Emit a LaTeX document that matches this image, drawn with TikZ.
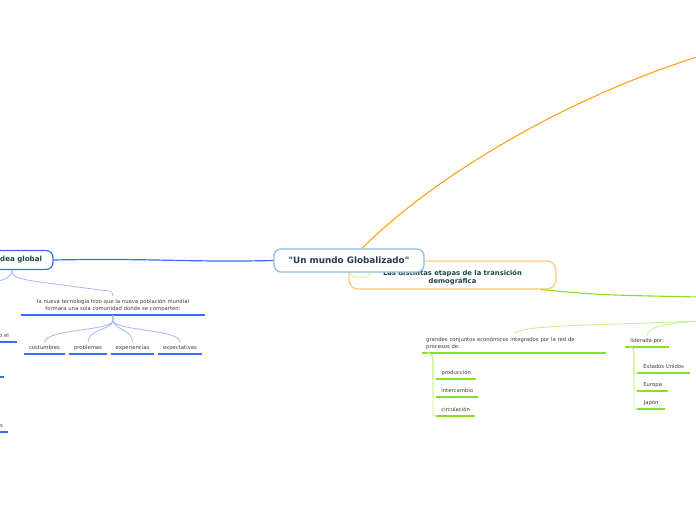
\documentclass[tikz,border=0pt]{standalone}
\usepackage{fontspec}
\setmainfont{DejaVu Sans}
\usetikzlibrary{calc}
\definecolor{cblue}{HTML}{8CBDE6}
\definecolor{ctext}{HTML}{233A58}
\definecolor{oline}{HTML}{FFC878}
\definecolor{oconn}{HTML}{FFA41C}
\definecolor{ttext}{HTML}{1E4646}
\definecolor{gbright}{HTML}{88E024}
\definecolor{glight}{HTML}{C8F28E}
\definecolor{gyel}{HTML}{E6F5A0}
\definecolor{bstrong}{HTML}{3A6CF4}
\definecolor{blight}{HTML}{A2B9F6}
\definecolor{gtxt}{HTML}{3A3A3A}
\begin{document}
\begin{tikzpicture}[x=1pt,y=-1pt,
  central/.style={draw=cblue, line width=1.3pt, fill=white, rounded corners=7pt, minimum width=150pt, minimum height=23pt, inner sep=0pt, font=\fontsize{8.8}{10}\selectfont\bfseries, text=ctext},
  topic/.style={draw=oline, line width=1.2pt, fill=white, rounded corners=9pt, minimum width=207pt, minimum height=28pt, inner sep=0pt, align=center, font=\fontsize{6.8}{8}\selectfont\bfseries, text=ttext},
  mainb/.style={draw=bstrong, line width=1.2pt, fill=white, rounded corners=7pt, minimum height=19pt, inner ysep=0pt, font=\fontsize{7.1}{8}\selectfont\bfseries, text=ttext},
  leaf/.style={inner xsep=0pt, inner ysep=3pt, text height=4pt, text depth=1.2pt, font=\fontsize{5.3}{6.5}\selectfont, text=gtxt},
  para/.style={inner xsep=4pt, inner ysep=3pt, font=\fontsize{5.3}{7.3}\selectfont, text=gtxt},
  ulb/.style={draw=bstrong, line width=1.6pt},
  ulg/.style={draw=gbright, line width=1.4pt},
  lkb/.style={draw=blight, line width=0.8pt},
  lkg/.style={draw=glight, line width=0.9pt},
]
\useasboundingbox (0,0) rectangle (696,520);
\clip (0,0) rectangle (696,520);

% free ends
\coordinate (oe) at (700,56);
\coordinate (ge) at (700,297);
\coordinate (gp) at (700,321);
\coordinate (igs) at (12,270);
\coordinate (igl) at (-5,282);

% orange topic (behind central)
\node[topic] (o) at (452.5,275) {\rule{0pt}{9.5pt}Las distintas etapas de la transición\\demográfica};
\draw[gyel, line width=1.2pt] (350,266) .. controls (350.5,276) .. (356,277) -- (365,277) .. controls (370,276.5) .. (370,266);
\draw[gbright, line width=1.1pt] ($(o.south east)+(-16,0)$) .. controls (600,295) .. (ge);

% central
\node[central] (c) at (349,260.5) {\textquotedbl Un mundo Globalizado\textquotedbl};
\draw[oconn, line width=1.1pt] ($(c.north)+(13,0)$) .. controls (430,180) and (560,100) .. (oe);

% left main topic
\node[mainb, minimum width=93pt, text width=71pt, align=right, inner xsep=11pt] (ig) at (6.5,260) {idea global};
\draw[bstrong, line width=1.2pt] (ig.east) .. controls (150,258) and (190,262.5) .. (c.west);

% left subtree
\node[para, text width=176pt, align=center, anchor=south] (n) at (113,315) {la nueva tecnología hizo que la nueva población mundial\\formara una sola comunidad donde se comparten:};
\draw[ulb] (n.south west) -- (n.south east);
\draw[lkb] (igs) .. controls (12,278) and (20,279) .. (40,282) -- (100,290) .. controls (112,291) .. (n.north);
\draw[lkb] (igs) .. controls (12,277) and (6,279) .. (igl);

\node[leaf, anchor=south, minimum width=41pt] (k1) at (44.5,354) {costumbres};
\node[leaf, anchor=south, minimum width=38pt] (k2) at (88,354) {problemas};
\node[leaf, anchor=south, minimum width=43pt] (k3) at (132.5,354) {experiencias};
\node[leaf, anchor=south, minimum width=44pt] (k4) at (180,354) {expectativas};
\foreach \k in {k1,k2,k3,k4} {\draw[ulb] (\k.south west) -- (\k.south east);}
\draw[lkb] (n.south) -- (113,321) .. controls (110,331) and (45,329) .. (k1.north);
\draw[lkb] (n.south) -- (113,321) .. controls (111,330) and (88,329) .. (k2.north);
\draw[lkb] (n.south) -- (113,321) .. controls (115,330) and (132,329) .. (k3.north);
\draw[lkb] (n.south) -- (113,321) .. controls (116,331) and (180,329) .. (k4.north);

% cut-off items at the left edge
\node[leaf, anchor=south east, text width=22pt, align=right, inner xsep=8pt] (q1) at (17,342) {o el};
\draw[ulb] (q1.south west) -- (q1.south east);
\node[leaf, anchor=south east, minimum width=30pt] (q2) at (4,377) {};
\draw[ulb] (q2.south west) -- (q2.south east);
\node[leaf, anchor=south east, text width=20pt, align=right, inner xsep=5pt] (q3) at (8,432) {s};
\draw[ulb] (q3.south west) -- (q3.south east);

% right subtree
\node[para, text width=176pt, align=left, anchor=south west] (g) at (422,353) {grandes conjuntos económicos integrados por la red de\\procesos de:};
\draw[ulg] (g.south west) -- (g.south east);
\node[leaf, anchor=south west, minimum width=44pt] (l) at (625,347) {liderada por:};
\draw[ulg] (l.south west) -- (l.south east);
\draw[lkg] (gp) .. controls (580,326) and (520,325) .. (g.north);
\draw[lkg] (gp) .. controls (670,323) and (648,326) .. (l.north);

\node[leaf, anchor=south west, minimum width=40pt] (p1) at (436,379) {producción};
\node[leaf, anchor=south west, minimum width=42pt] (p2) at (436,397) {intercambio};
\node[leaf, anchor=south west, minimum width=39pt] (p3) at (436,416) {circulación};
\foreach \p in {p1,p2,p3} {
  \draw[ulg] (\p.south west) -- (\p.south east);
  \draw[lkg] ($(g.south west)+(5,0)$) .. controls (432,354) .. (433,360) -- ($(\p.south west)+(-3,-6)$) .. controls ($(\p.south west)+(-3,0)$) .. (\p.south west);
}

\node[leaf, anchor=south west, minimum width=53pt] (e1) at (637,373) {Estados Unidos};
\node[leaf, anchor=south west, minimum width=31pt] (e2) at (637,391) {Europa};
\node[leaf, anchor=south west, minimum width=28pt] (e3) at (637,409) {Japón};
\foreach \e in {e1,e2,e3} {
  \draw[ulg] (\e.south west) -- (\e.south east);
  \draw[lkg] ($(l.south west)+(5,0)$) .. controls (633,348) .. (634,353) -- ($(\e.south west)+(-3,-6)$) .. controls ($(\e.south west)+(-3,0)$) .. (\e.south west);
}
\end{tikzpicture}
\end{document}
